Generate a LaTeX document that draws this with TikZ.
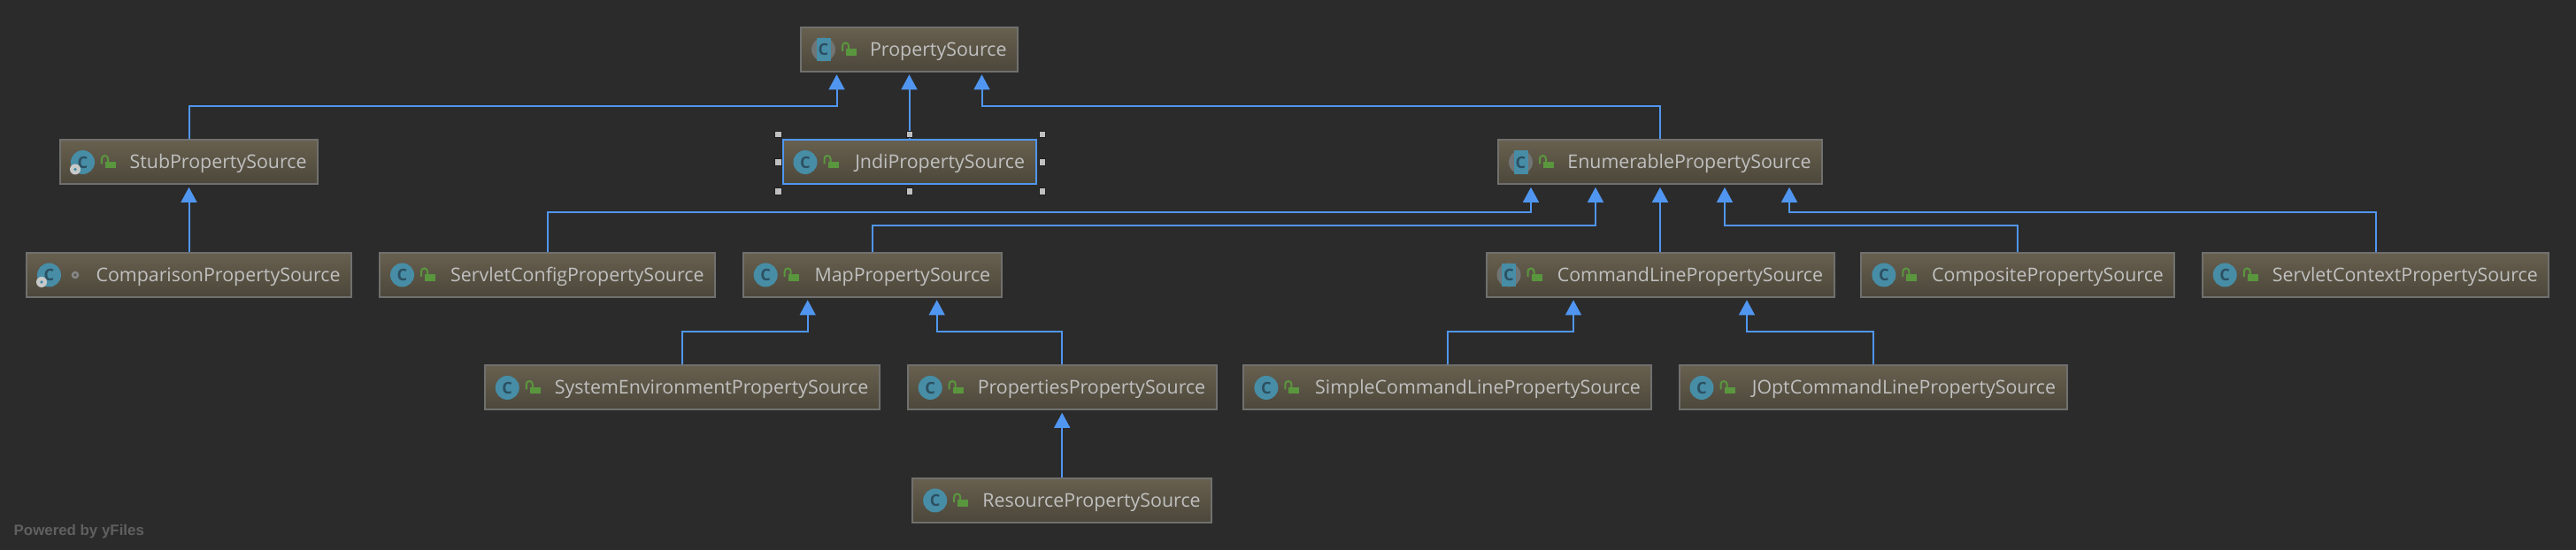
\documentclass[tikz,border=0pt]{standalone}
\usepackage{fontspec}
\setmainfont{Open Sans}
\newfontfamily\footfont{Liberation Sans}
\usetikzlibrary{arrows.meta}
\definecolor{canvasgray}{RGB}{43,43,43}
\definecolor{boxtop}{RGB}{104,96,79}
\definecolor{boxbottom}{RGB}{75,71,58}
\definecolor{boxedge}{RGB}{112,112,110}
\definecolor{labelgray}{RGB}{192,192,192}
\definecolor{edgeblue}{RGB}{80,150,240}
\definecolor{iconteal}{RGB}{71,141,166}
\definecolor{icondark}{RGB}{44,80,98}
\definecolor{ringgray}{RGB}{112,116,116}
\definecolor{lockgreen}{RGB}{90,150,62}
\definecolor{footgray}{RGB}{96,96,96}
\tikzset{
  classbox/.style={draw=boxedge,line width=0.02cm,top color=boxtop,bottom color=boxbottom,
    minimum height=0.5cm,inner ysep=0pt,inner xsep=0.125cm,text width=#1cm-0.25cm,align=right,
    text height=0.246cm,text depth=0.1cm,
    text=labelgray,font=\fontsize{6.08}{7}\selectfont},
  parentarrow/.style={draw=edgeblue,line width=0.02cm,shorten >=0.023cm,
    -{Triangle[width=0.178cm,length=0.17cm,fill=edgeblue]}},
  iconletter/.style={text=icondark,inner sep=0pt,font=\fontsize{5.2}{6}\selectfont\bfseries},
  handlebox/.style={fill=labelgray,draw=canvasgray!70!black,line width=0.005cm,minimum size=0.075cm,inner sep=0pt}
}
% icon parts, all measured from the west side of a class box
\newcommand{\plainicon}[1]{
  \fill[iconteal] ([xshift=0.265cm]#1.west) circle (0.135);
  \node[iconletter] at ([xshift=0.265cm]#1.west) {C};
}
\newcommand{\abstracticon}[1]{
  \fill[ringgray] ([xshift=0.265cm]#1.west) circle (0.135);
  \fill[iconteal] ([xshift=0.185cm,yshift=-0.133cm]#1.west) rectangle ([xshift=0.345cm,yshift=0.133cm]#1.west);
  \node[iconletter] at ([xshift=0.265cm]#1.west) {C};
}
\newcommand{\pinmark}[1]{
  \fill[labelgray!85!white] ([xshift=0.18cm,yshift=-0.08cm]#1.west) circle (0.06);
  \fill[iconteal] ([xshift=0.18cm,yshift=-0.08cm]#1.west) circle (0.018);
}
\newcommand{\lockicon}[1]{
  \fill[lockgreen] ([xshift=0.52cm,yshift=-0.07cm]#1.west) rectangle ([xshift=0.64cm,yshift=0.005cm]#1.west);
  \draw[lockgreen,line width=0.02cm] ([xshift=0.55cm,yshift=0cm]#1.west) -- ([xshift=0.55cm,yshift=0.04cm]#1.west)
    arc (0:180:0.035) -- ([xshift=0.48cm,yshift=-0.02cm]#1.west);
}
\begin{document}
\begin{tikzpicture}[x=1cm,y=1cm]
 \fill[canvasgray] (0,0) rectangle (29.11,6.22);
 % class boxes, row by row
 \node[classbox=2.45] (prop) at (10.275,5.66) {PropertySource};
 \node[classbox=2.91] (stub) at (2.135,4.385) {StubPropertySource};
 \node[classbox=2.86,draw=edgeblue] (jndi) at (10.275,4.385) {JndiPropertySource};
 \node[classbox=3.66] (enum) at (18.76,4.385) {EnumerablePropertySource};
 \node[classbox=3.67] (compare) at (2.135,3.11) {ComparisonPropertySource};
 \node[classbox=3.79] (config) at (6.185,3.11) {ServletConfigPropertySource};
 \node[classbox=2.92] (map) at (9.857,3.11) {MapPropertySource};
 \node[classbox=3.93] (cmdline) at (18.76,3.11) {CommandLinePropertySource};
 \node[classbox=3.54] (composite) at (22.804,3.11) {CompositePropertySource};
 \node[classbox=3.915] (context) at (26.845,3.11) {ServletContextPropertySource};
 \node[classbox=4.46] (sysenv) at (7.708,1.835) {SystemEnvironmentPropertySource};
 \node[classbox=3.49] (props) at (12.002,1.835) {PropertiesPropertySource};
 \node[classbox=4.61] (simple) at (16.359,1.835) {SimpleCommandLinePropertySource};
 \node[classbox=4.38] (jopt) at (21.165,1.835) {JOptCommandLinePropertySource};
 \node[classbox=3.38] (resource) at (12.002,0.56) {ResourcePropertySource};
 % icons
 \foreach \n in {stub,jndi,compare,config,map,composite,context,sysenv,props,simple,jopt,resource}
   {\plainicon{\n}}
 \foreach \n in {prop,enum,cmdline}
   {\abstracticon{\n}}
 \foreach \n in {stub,compare}
   {\pinmark{\n}}
 \foreach \n in {prop,stub,jndi,enum,config,map,cmdline,composite,context,sysenv,props,simple,jopt,resource}
   {\lockicon{\n}}
 \draw[labelgray!70!black,line width=0.025cm] ([xshift=0.56cm]compare.west) circle (0.03);
 % inheritance edges
 \draw[parentarrow] (stub.north) -- ++(0,0.37) -| ([xshift=-0.82cm]prop.south);
 \draw[parentarrow] (jndi.north) -- (prop.south);
 \draw[parentarrow] (enum.north) -- ++(0,0.37) -| ([xshift=0.82cm]prop.south);
 \draw[parentarrow] (compare.north) -- (stub.south);
 \draw[parentarrow] (config.north) -- ++(0,0.45) -| ([xshift=-1.46cm]enum.south);
 \draw[parentarrow] (map.north) -- ++(0,0.30) -| ([xshift=-0.73cm]enum.south);
 \draw[parentarrow] (cmdline.north) -- (enum.south);
 \draw[parentarrow] (composite.north) -- ++(0,0.30) -| ([xshift=0.73cm]enum.south);
 \draw[parentarrow] (context.north) -- ++(0,0.45) -| ([xshift=1.46cm]enum.south);
 \draw[parentarrow] (sysenv.north) -- ++(0,0.375) -| ([xshift=-0.73cm]map.south);
 \draw[parentarrow] (props.north) -- ++(0,0.375) -| ([xshift=0.73cm]map.south);
 \draw[parentarrow] (simple.north) -- ++(0,0.375) -| ([xshift=-0.98cm]cmdline.south);
 \draw[parentarrow] (jopt.north) -- ++(0,0.375) -| ([xshift=0.98cm]cmdline.south);
 \draw[parentarrow] (resource.north) -- (props.south);
 % selection handles
 \foreach \hx/\hy in {-1.485/0.315,0/0.315,1.5/0.315,-1.485/0,1.5/0,-1.485/-0.33,0/-0.33,1.5/-0.33}
   {\node[handlebox] at ([shift={(\hx,\hy)}]jndi.center) {};}
 \node[anchor=west,inner sep=0pt,text=footgray,font=\footfont\bfseries\fontsize{4.8}{6}\selectfont] (yfiles) at (0.15,0.205) {Powered by yFiles};
\end{tikzpicture}
\end{document}
